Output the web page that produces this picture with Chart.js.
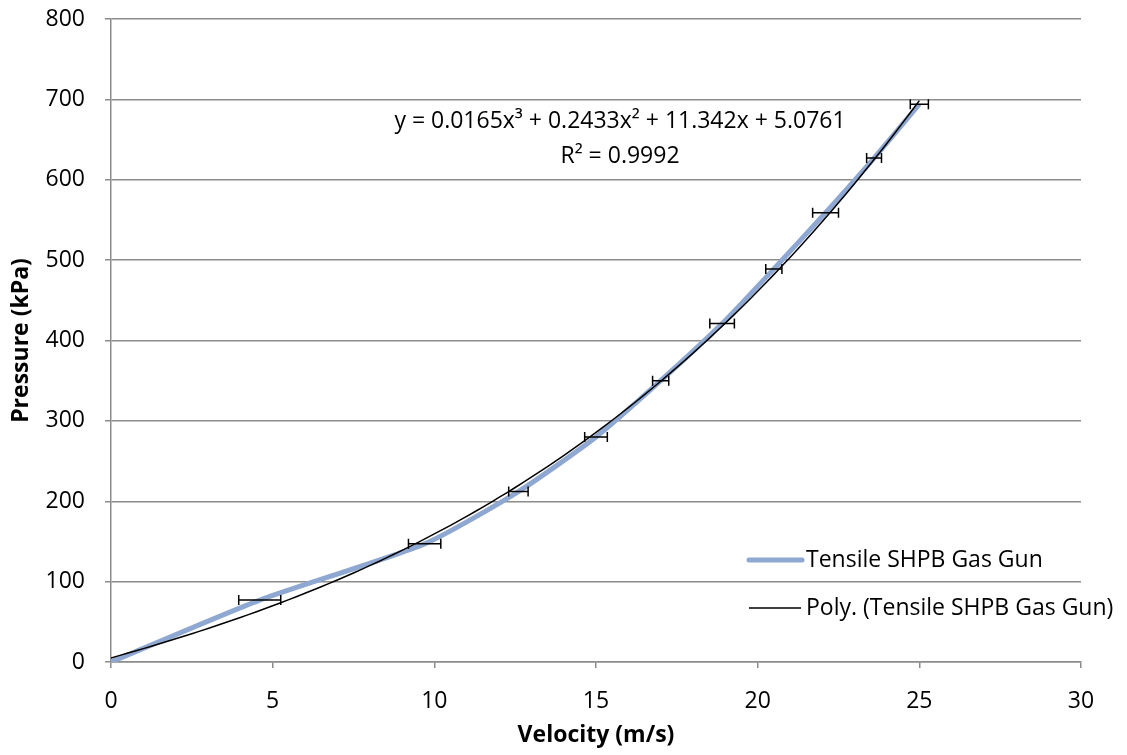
<!DOCTYPE html>
<html>
<head>
<meta charset="utf-8">
<script src="https://cdn.jsdelivr.net/npm/chart.js@4.4.1/dist/chart.umd.min.js"></script>
<style>
  html, body { margin: 0; padding: 0; background: #ffffff; }
  #wrap { width: 1127px; height: 755px; position: relative; }
</style>
</head>
<body>
<div id="wrap"><canvas id="c" width="1127" height="755"></canvas></div>
<script>
// ---- Data ----
const velocity = [0, 4.6, 9.7, 12.6, 15.0, 17.0, 18.9, 20.5, 22.1, 23.6, 25.0];   // m/s
const pressure = [0, 77, 147, 212, 280, 350, 421, 489, 559, 627, 694];            // kPa
const velocityErr = [0, 0.65, 0.5, 0.3, 0.35, 0.25, 0.38, 0.25, 0.4, 0.23, 0.28]; // ± m/s
// Trendline coefficients as printed on the chart (x^3, x^2, x, 1)
const polyCoef = [0.0165, 0.2433, 11.342, 5.0761];
const equationText = "y = 0.0165x³ + 0.2433x² + 11.342x + 5.0761";
const r2Text = "R² = 0.9992";
const seriesName = "Tensile SHPB Gas Gun";
const trendName = "Poly. (Tensile SHPB Gas Gun)";
const xTicks = [0, 5, 10, 15, 20, 25, 30];
const yTicks = [0, 100, 200, 300, 400, 500, 600, 700, 800];

const FONT = "'Open Sans', 'Liberation Sans', sans-serif";
const GRID = '#8c8c8c';
const BLUE = '#8EA8D2';

const mainPts = velocity.map((v, i) => ({ x: v, y: pressure[i] }));
const xMin = Math.min(...velocity), xMax = Math.max(...velocity);
const trendPts = [];
for (let k = 0; k <= 100; k++) {
  const x = xMin + (xMax - xMin) * k / 100;
  const y = polyCoef[0] * x * x * x + polyCoef[1] * x * x + polyCoef[2] * x + polyCoef[3];
  trendPts.push({ x, y });
}

const errorBarPlugin = {
  id: 'errorBars',
  afterDatasetsDraw(chart) {
    const ctx = chart.ctx, xs = chart.scales.x, ys = chart.scales.y;
    ctx.save();
    ctx.strokeStyle = '#000';
    ctx.lineWidth = 1.5;
    velocity.forEach((v, i) => {
      const e = velocityErr[i];
      if (!e) return;
      const x1 = xs.getPixelForValue(v - e), x2 = xs.getPixelForValue(v + e);
      const y = ys.getPixelForValue(pressure[i]);
      ctx.beginPath();
      ctx.moveTo(x1, y); ctx.lineTo(x2, y);
      ctx.moveTo(x1, y - 5); ctx.lineTo(x1, y + 5);
      ctx.moveTo(x2, y - 5); ctx.lineTo(x2, y + 5);
      ctx.stroke();
    });
    ctx.restore();
  }
};

const annotatePlugin = {
  id: 'annot',
  afterDraw(chart) {
    const ctx = chart.ctx;
    ctx.save();
    ctx.fillStyle = '#000';
    ctx.font = "23px " + FONT;
    ctx.textAlign = 'center';
    ctx.textBaseline = 'middle';
    ctx.fillText(equationText, 620, 121);
    ctx.fillText(r2Text, 620, 156);
    ctx.textAlign = 'left';
    ctx.lineCap = 'round';
    ctx.strokeStyle = BLUE; ctx.lineWidth = 5;
    ctx.beginPath(); ctx.moveTo(749, 560); ctx.lineTo(802, 560); ctx.stroke();
    ctx.fillText(seriesName, 806, 560);
    ctx.lineCap = 'butt';
    ctx.strokeStyle = '#000'; ctx.lineWidth = 1.5;
    ctx.beginPath(); ctx.moveTo(749, 608); ctx.lineTo(801, 608); ctx.stroke();
    ctx.fillText(trendName, 806, 608);
    ctx.restore();
  }
};

new Chart(document.getElementById('c'), {
  type: 'scatter',
  data: {
    datasets: [
      {
        label: seriesName,
        data: mainPts,
        showLine: true,
        borderColor: BLUE,
        backgroundColor: BLUE,
        borderWidth: 5,
        pointRadius: 0,
        tension: 0.2,
        order: 2
      },
      {
        label: trendName,
        data: trendPts,
        showLine: true,
        borderColor: '#000',
        borderWidth: 1.5,
        pointRadius: 0,
        tension: 0,
        order: 1
      }
    ]
  },
  options: {
    responsive: false,
    animation: false,
    layout: { padding: { left: 0, right: 46, top: 19, bottom: 0 } },
    plugins: { legend: { display: false }, tooltip: { enabled: false } },
    scales: {
      x: {
        type: 'linear', min: 0, max: 30,
        afterBuildTicks(s) { s.ticks = xTicks.map(v => ({ value: v })); },
        afterFit(s) { s.height = 93; s.paddingLeft = 0; s.paddingRight = 0; },
        ticks: { color: '#000', font: { family: FONT, size: 23 }, padding: 20 },
        grid: { drawOnChartArea: false, drawTicks: true, tickLength: 6, color: GRID, lineWidth: 1.5 },
        border: { color: GRID, width: 1.5 },
        title: { display: true, text: 'Velocity (m/s)', color: '#000', font: { family: FONT, size: 23, weight: 'bold' }, padding: { top: 0, bottom: 6 } }
      },
      y: {
        type: 'linear', min: 0, max: 800,
        afterBuildTicks(s) { s.ticks = yTicks.map(v => ({ value: v })); },
        afterFit(s) { s.width = 111; s.paddingTop = 0; s.paddingBottom = 0; },
        ticks: { color: '#000', font: { family: FONT, size: 23 }, padding: 20 },
        grid: { color: GRID, lineWidth: 1.5, tickLength: 6 },
        border: { color: GRID, width: 1.5 },
        title: { display: true, text: 'Pressure (kPa)', color: '#000', font: { family: FONT, size: 23, weight: 'bold' }, padding: { top: 8, bottom: 0 } }
      }
    }
  },
  plugins: [errorBarPlugin, annotatePlugin]
});
</script>
</body>
</html>
